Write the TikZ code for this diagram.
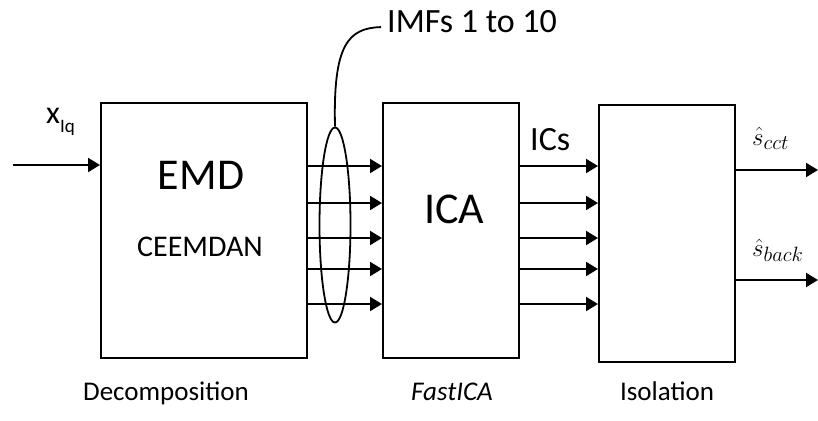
\documentclass[tikz,border=0pt]{standalone}
\usepackage{fontspec}
\setmainfont{Carlito}
\usetikzlibrary{arrows.meta,positioning}
\usetikzlibrary{shapes.geometric}

\begin{document}
\begin{tikzpicture}[
    x=1pt,y=-1pt,
    >={Triangle[length=12pt,width=14pt]},
    block/.style={draw,line width=2pt,inner sep=0pt},
    sig/.style={->,line width=2pt},
    bigtxt/.style={inner sep=0pt,font=\fontsize{44}{52}\selectfont},
    midtxt/.style={inner sep=0pt,font=\fontsize{34}{40}\selectfont},
    smalltxt/.style={inner sep=0pt,font=\fontsize{27}{32}\selectfont},
]
\useasboundingbox (0,0) rectangle (818,420);

% =====================================================
% Blocks
% =====================================================

\node[block,minimum width=206pt,minimum height=255pt] (emd) at (204,230.5) {};
\node[block,minimum width=136pt,minimum height=255pt] (ica) at (451,230.5) {};
\node[block,minimum width=136pt,minimum height=257pt] (iso) at (667,233.5) {};

\node[bigtxt,anchor=base] (emdlbl) at (201,189) {EMD};
\node[inner sep=0pt,anchor=base,font=\fontsize{30}{34}\selectfont]
    (ceem) at (200,256) {CEEMDAN};
\node[bigtxt,anchor=base] (icalbl) at (454,223) {ICA};

\node[smalltxt,anchor=base] (dec) at (166,400) {Decomposition};
\node[smalltxt,anchor=base] (fast) at (452,400) {\itshape FastICA};
\node[smalltxt,anchor=base] (isol) at (667,400) {Isolation};

% =====================================================
% Input
% =====================================================

\coordinate (in) at (13,165);
\node[inner sep=0pt,anchor=base west,font=\fontsize{32}{36}\selectfont]
    (xlbl) at (46,123)
    {x\raisebox{-9pt}{\fontsize{19}{22}\selectfont Iq}};

\draw[sig] (in) -- (emd.west |- in);

% =====================================================
% IMFs and ICs
% =====================================================

\foreach \k/\yy in {1/166,2/203,3/238,4/269,5/304} {
    \coordinate (lv\k) at (0,\yy);
    \draw[sig] (emd.east |- lv\k) -- (ica.west |- lv\k);
    \draw[sig] (ica.east |- lv\k) -- (iso.west |- lv\k);
}

\node[draw,ellipse,line width=1.8pt,minimum width=31pt,minimum height=195pt]
    (bundle) at (335,225) {};

\node[midtxt,anchor=base west] (imfs) at (387,33) {IMFs 1 to 10};
\draw[line width=1.8pt]
    (bundle.north)
    .. controls (333,45) and (348,28) ..
    ([shift={(-6,5)}]imfs.west);

\node[midtxt,anchor=base west] (ics) at (530,150) {ICs};

% =====================================================
% Outputs
% =====================================================

\coordinate (out1) at (818,170);
\coordinate (out2) at (818,280);

\draw[sig] (iso.east |- out1) -- (out1);
\draw[sig] (iso.east |- out2) -- (out2);

\node[inner sep=0pt,anchor=base west,font=\fontsize{31}{35}\selectfont]
    (scct) at (752,145) {$\hat{s}_{cct}$};
\node[inner sep=0pt,anchor=base west,font=\fontsize{31}{35}\selectfont]
    (sback) at (752,256) {$\hat{s}_{back}$};

\end{tikzpicture}
\end{document}
